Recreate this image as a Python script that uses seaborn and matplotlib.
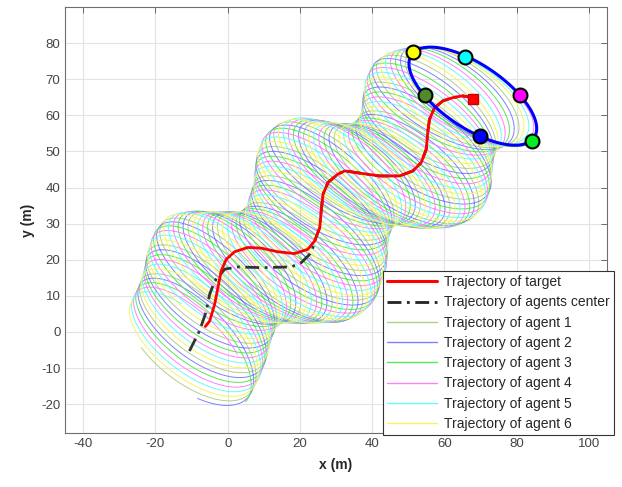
import numpy as np
import pandas as pd
import matplotlib
matplotlib.use("Agg")
import matplotlib.pyplot as plt
from matplotlib.lines import Line2D
import seaborn as sns

# ---------------- data ----------------
# target trajectory (red)
target_x = [-6.2, -5.0, -3.6, -2.7, -1.8, -0.4, 1.9, 5.6, 9.3, 13.9, 18.5, 22.2, 24.1,
            25.5, 25.9, 26.4, 27.8, 30.5, 32.4, 36.5, 42.1, 47.6, 51.3, 53.6, 55.0,
            55.4, 55.9, 57.3, 59.6, 62.4, 65.1, 67.4, 67.9]
target_y = [1.5, 3.0, 7.7, 12.3, 16.9, 20.1, 22.2, 23.4, 23.2, 22.2, 21.7, 22.9, 25.2,
            28.9, 33.5, 38.1, 41.4, 43.7, 44.6, 44.0, 43.2, 43.2, 44.6, 46.9, 50.6,
            55.2, 58.9, 62.1, 64.0, 64.9, 65.4, 64.9, 64.5]
merge_index = 12  # where the agents' center joins the target path

# agents' center trajectory before it joins the target path (black dash-dot)
center_x = [-10.6, -7.8, -6.0, -5.0, -3.6, -0.8, 2.9, 9.3, 17.6, 20.4, 22.7, 23.5]
center_y = [-5.3, 0.3, 5.5, 10.4, 14.1, 17.4, 18.0, 17.8, 18.0, 19.2, 21.5, 23.0]

# formation ellipse (semi axes and tilt) at a few instants of the run
form_time = [0.0, 0.45, 1.0]
form_semi_major = [21.0, 22.0, 20.5]
form_semi_minor = [9.5, 9.3, 8.8]
form_tilt_deg = [-42.0, -37.0, -34.0]
n_revolutions = 15

# final agent positions (markers) and their colours
agent_names = ["Trajectory of agent 1", "Trajectory of agent 2", "Trajectory of agent 3",
               "Trajectory of agent 4", "Trajectory of agent 5", "Trajectory of agent 6"]
final_x = [54.7, 70.0, 84.4, 81.1, 65.8, 51.4]
final_y = [65.6, 54.4, 53.0, 65.6, 76.1, 77.5]
final_phase_deg = [240, 300, 0, 60, 120, 180]
line_colors = ["#b2cf88", "#8080ff", "#55ea55", "#ff80ff", "#66fcfc", "#f5f560"]
marker_colors = ["#4f8a2b", "#0000ff", "#00ee22", "#ff00ff", "#00ffff", "#ffff00"]
final_center = (67.9, 65.3)

# ---------------- build trajectories ----------------
path_x = np.array(center_x + target_x[merge_index:])
path_y = np.array(center_y + target_y[merge_index:])
seg = np.hypot(np.diff(path_x), np.diff(path_y))
arc = np.concatenate([[0], np.cumsum(seg)])
t = np.linspace(0, 1, 6000)
cx = np.interp(t * arc[-1], arc, path_x)
cy = np.interp(t * arc[-1], arc, path_y)
a = np.interp(t, form_time, form_semi_major)
b = np.interp(t, form_time, form_semi_minor)
phi = np.radians(np.interp(t, form_time, form_tilt_deg))

frames = []
for k, name in enumerate(agent_names):
    th = np.radians(final_phase_deg[k]) - 2 * np.pi * n_revolutions * (1 - t)
    ex = a * np.cos(th)
    ey = b * np.sin(th)
    px = cx + ex * np.cos(phi) - ey * np.sin(phi)
    py = cy + ex * np.sin(phi) + ey * np.cos(phi)
    frames.append(pd.DataFrame({"x": px, "y": py, "agent": name}))
agents_df = pd.concat(frames, ignore_index=True)

target_df = pd.DataFrame({"x": target_x, "y": target_y})
center_df = pd.DataFrame({"x": center_x + target_x[merge_index:],
                          "y": center_y + target_y[merge_index:]})

ell_th = np.linspace(0, 2 * np.pi, 300)
fa, fb, fphi = form_semi_major[-1], form_semi_minor[-1], np.radians(form_tilt_deg[-1])
ell_df = pd.DataFrame({
    "x": final_center[0] + fa * np.cos(ell_th) * np.cos(fphi) - fb * np.sin(ell_th) * np.sin(fphi),
    "y": final_center[1] + fa * np.cos(ell_th) * np.sin(fphi) + fb * np.sin(ell_th) * np.cos(fphi)})

# ---------------- plot ----------------
sns.set_style("white")
plt.rcParams["font.family"] = ["Liberation Sans", "DejaVu Sans"]
plt.rcParams["axes.unicode_minus"] = False

fig = plt.figure(figsize=(6.22, 4.87), dpi=100)
ax = fig.add_axes([65 / 622, 1 - 433 / 487, 542 / 622, 426 / 487])

sns.lineplot(data=agents_df, x="x", y="y", hue="agent", units="agent", estimator=None,
             sort=False, palette=dict(zip(agent_names, line_colors)), lw=0.7,
             legend=False, ax=ax)
sns.lineplot(data=center_df, x="x", y="y", sort=False, estimator=None, color="#333333",
             lw=2.0, ls=(0, (5, 2, 1, 2)), ax=ax)
sns.lineplot(data=target_df, x="x", y="y", sort=False, estimator=None, color="#ff0000",
             lw=2.0, ax=ax)
sns.lineplot(data=ell_df, x="x", y="y", sort=False, estimator=None, color="#0000ff",
             lw=2.2, ax=ax)
ax.plot([target_x[-1]], [target_y[-1]], marker="s", ms=7, color="#ff0000", mec="#cc0000", ls="none")
for k in range(6):
    ax.plot([final_x[k]], [final_y[k]], marker="o", ms=10, mfc=marker_colors[k],
            mec="black", mew=1.5, ls="none", zorder=5)

ax.set_xlim(-45, 105)
ax.set_ylim(-28, 90)
ax.set_aspect("equal", adjustable="box")
ax.set_xticks(np.arange(-40, 101, 20))
ax.set_yticks(np.arange(-20, 81, 10))
ax.grid(True, color="#e3e3e3", lw=0.8)
ax.set_axisbelow(True)
ax.tick_params(direction="in", length=4, width=0.6, colors="#555555", labelsize=9.5,
               top=True, right=True, labelcolor="#444444")
for sp in ax.spines.values():
    sp.set_color("#6e6e6e")
    sp.set_linewidth(0.8)
ax.set_xlabel("x (m)", fontsize=10, fontweight="bold", color="#262626", labelpad=6)
ax.set_ylabel("y (m)", fontsize=10, fontweight="bold", color="#262626", labelpad=4)

handles = [Line2D([], [], color="#ff0000", lw=2.2),
           Line2D([], [], color="#222222", lw=2.0, ls=(0, (5, 2, 1, 2)))]
handles += [Line2D([], [], color=c, lw=1.0) for c in line_colors]
labels = ["Trajectory of target", "Trajectory of agents center"] + agent_names
leg = fig.legend(handles, labels, loc="upper left", bbox_to_anchor=(383 / 622, 1 - 271 / 487),
                 bbox_transform=fig.transFigure, fontsize=10, frameon=True, fancybox=False,
                 edgecolor="#333333", framealpha=1, borderpad=0.3, labelspacing=0.45,
                 handlelength=3.6, handletextpad=0.5, borderaxespad=0)
leg.get_frame().set_linewidth(0.8)

fig.savefig("out.png", dpi=100)
